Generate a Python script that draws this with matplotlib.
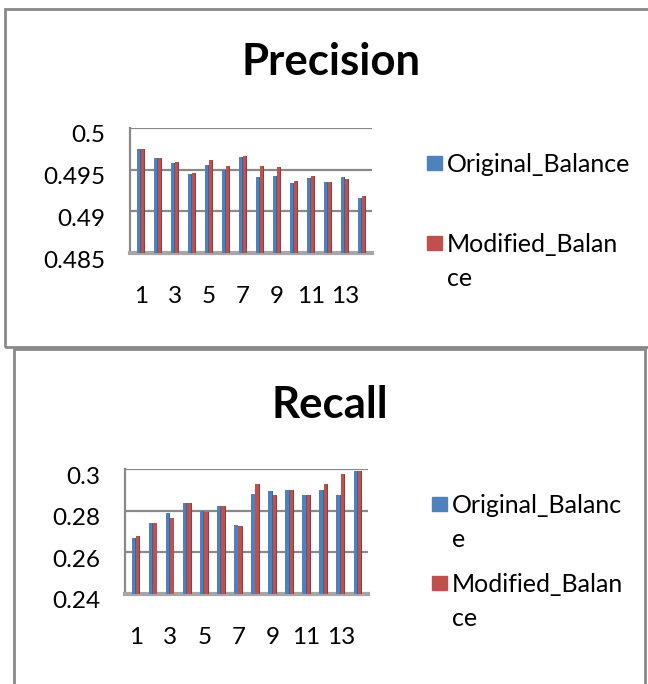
import numpy as np
import matplotlib.pyplot as plt
from matplotlib.patches import Rectangle
from matplotlib.transforms import ScaledTranslation

plt.rcParams['font.family'] = ['Lato', 'DejaVu Sans']

# data
runs = np.arange(1, 15)
xtick_labels = ['1', '3', '5', '7', '9', '11', '13']
series = ['Original_Balance', 'Modified_Balance']

precision_orig = [0.49746, 0.49637, 0.49585, 0.49452, 0.49552, 0.49500, 0.49653,
                  0.49407, 0.49427, 0.49343, 0.49403, 0.49347, 0.49407, 0.49165]
precision_mod = [0.49754, 0.49637, 0.49593, 0.49464, 0.49613, 0.49548, 0.49669,
                 0.49548, 0.49528, 0.49363, 0.49423, 0.49347, 0.49383, 0.49185]
recall_orig = [0.26704, 0.27392, 0.27904, 0.28384, 0.27984, 0.28240, 0.27312,
               0.28816, 0.28960, 0.29008, 0.28736, 0.28980, 0.28736, 0.29920]
recall_mod = [0.26768, 0.27424, 0.27632, 0.28384, 0.27936, 0.28240, 0.27264,
              0.29264, 0.28752, 0.29008, 0.28736, 0.29264, 0.29744, 0.29888]

precision_ticks = [0.485, 0.49, 0.495, 0.5]
precision_ticklabels = ['0.485', '0.49', '0.495', '0.5']
recall_ticks = [0.24, 0.26, 0.28, 0.3]
recall_ticklabels = ['0.24', '0.26', '0.28', '0.3']

blue = '#4F81BD'
blue_side = '#3A6597'
red = '#C0504D'
red_side = '#953B39'
grey = '#898989'

W, H = 648, 684
fig = plt.figure(figsize=(W / 100, H / 100), dpi=100)


def px(x, y):
    # pixel position (from top left) -> figure fraction
    return x / W, 1 - y / H


def panel(rect, title, title_xy, v1, v2, ticks, ticklabels, legend_rows):
    ax = fig.add_axes(rect)
    ax.set_xlim(0.35, 14.6)
    ax.set_ylim(ticks[0], ticks[-1])
    w, s = 0.2, 0.05
    ax.bar(runs - 0.25, np.array(v1) - ticks[0], w, bottom=ticks[0], align='edge',
           color=blue, zorder=3)
    ax.bar(runs - 0.05, np.array(v1) - ticks[0], s, bottom=ticks[0], align='edge',
           color=blue_side, zorder=3)
    ax.bar(runs, np.array(v2) - ticks[0], w, bottom=ticks[0], align='edge',
           color=red, zorder=3)
    ax.bar(runs + 0.2, np.array(v2) - ticks[0], s, bottom=ticks[0], align='edge',
           color=red_side, zorder=3)
    ax.set_yticks(ticks)
    ax.set_yticklabels(ticklabels)
    ax.set_xticks(range(1, 14, 2))
    ax.set_xticklabels(xtick_labels)
    ax.tick_params(axis='y', length=0, pad=18, labelsize=17.5)
    ax.tick_params(axis='x', length=0, pad=24, labelsize=17.5)
    off = ScaledTranslation(0, -6 / 100, fig.dpi_scale_trans)
    for lab in ax.get_yticklabels():
        lab.set_transform(lab.get_transform() + off)
    ax.grid(axis='y', color=grey, lw=1.6, zorder=0)
    for sp in ['top', 'right']:
        ax.spines[sp].set_visible(False)
    ax.spines['left'].set_color(grey)
    ax.spines['left'].set_linewidth(1.6)
    ax.spines['bottom'].set_color('#a6a6a6')
    ax.spines['bottom'].set_linewidth(3)
    fig.text(*px(*title_xy), title, ha='center', va='center', fontsize=31.5,
             fontweight='bold')
    for (sq_x, row_y, colour, text) in legend_rows:
        x0, y0 = px(sq_x, row_y + 7)
        fig.patches.append(Rectangle((x0, y0), 15 / W, 14 / H, color=colour,
                                     transform=fig.transFigure))
        for i, line in enumerate(text.split('\n')):
            fig.text(*px(sq_x + 20, row_y + 9 + 34 * i), line, ha='left',
                     va='baseline', fontsize=18)
    return ax


# panel frames
fig.patches.append(Rectangle(px(5, 347), 1.1, (347 - 9) / H, fill=False,
                             ec=grey, lw=2, transform=fig.transFigure))
fig.patches.append(Rectangle(px(14, 700), (645 - 14) / W, (700 - 349) / H, fill=False,
                             ec=grey, lw=2, transform=fig.transFigure))

l, b = px(130, 253)
panel([l, b, 242 / W, 125 / H], 'Precision', (331, 62),
      precision_orig, precision_mod, precision_ticks, precision_ticklabels,
      [(427, 163, blue, series[0]),
       (427, 243, red, 'Modified_Balan\nce')])

l, b = px(125, 594)
panel([l, b, 243 / W, 125 / H], 'Recall', (330, 405),
      recall_orig, recall_mod, recall_ticks, recall_ticklabels,
      [(432, 504, blue, 'Original_Balanc\ne'),
       (432, 583, red, 'Modified_Balan\nce')])

fig.savefig('out.png', dpi=100)
